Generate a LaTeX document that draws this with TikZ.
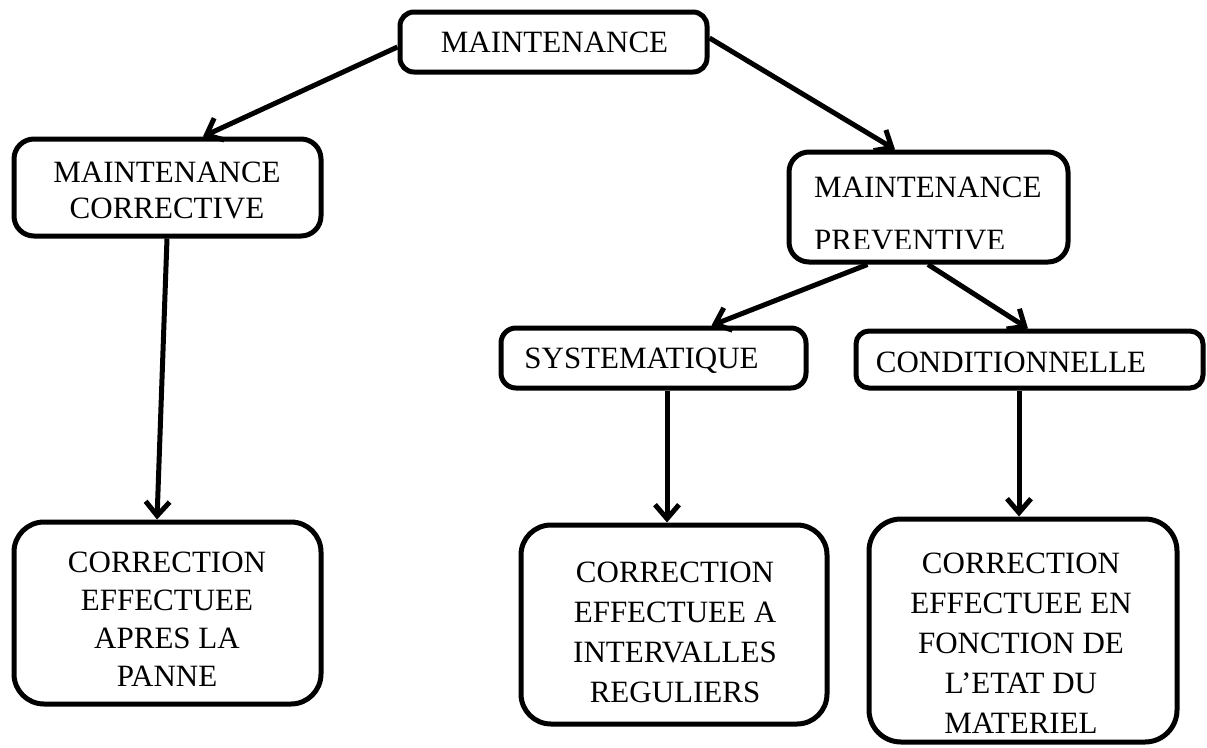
\documentclass[tikz,border=0pt]{standalone}
\usepackage{fontspec}
\setmainfont{Liberation Serif}
\usetikzlibrary{arrows.meta,calc}
\begin{document}
\begin{tikzpicture}[x=1pt,y=-1pt,
  box/.style={draw=black, line width=5pt, rectangle, inner sep=0pt},
  lbl/.style={inner sep=0pt, anchor=north, align=center, font=\fontsize{31}{40}\selectfont},
  link/.style={line width=5pt, draw=black, -{Straight Barb[length=14pt,width=24pt]}},
]
\useasboundingbox (0,0) rectangle (1207,747);
\fill[white] (0,0) rectangle (1207,747);

% boxes
\node[box, minimum width=307pt, minimum height=60pt, rounded corners=14pt] (btop) at (553.5,42) {};
\node[box, minimum width=307pt, minimum height=97pt, rounded corners=20pt] (bcorr) at (167.5,187.5) {};
\node[box, minimum width=279pt, minimum height=110pt, rounded corners=20pt] (bprev) at (928.5,207) {};
\node[box, minimum width=305pt, minimum height=60pt, rounded corners=15pt] (bsyst) at (653.5,358) {};
\node[box, minimum width=347pt, minimum height=57pt, rounded corners=13pt] (bcond) at (1029.5,359.5) {};
\node[box, minimum width=307pt, minimum height=182pt, rounded corners=30pt] (bpanne) at (167.5,613) {};
\node[box, minimum width=306pt, minimum height=199pt, rounded corners=30pt] (breg) at (674,624.5) {};
\node[box, minimum width=308pt, minimum height=223pt, rounded corners=32pt] (bmat) at (1023,630.5) {};

% labels
\node[lbl] (ttop) at (554.5,32) {MAINTENANCE};
\node[lbl, font=\fontsize{31}{36}\selectfont] (tcorr) at (167,162) {MAINTENANCE\\CORRECTIVE};
\begin{scope}
  \clip (789,152) rectangle (1068,248);
  \node[lbl, anchor=north west, align=left, font=\fontsize{31}{53}\selectfont] (tprev) at (814,177) {MAINTENANCE\\PREVENTIVE};
\end{scope}
\node[lbl] (tsyst) at (641.5,348) {SYSTEMATIQUE};
\node[lbl] (tcond) at (1011,352) {CONDITIONNELLE};
\node[lbl, font=\fontsize{31}{38}\selectfont] (tpanne) at (167,552) {CORRECTION\\EFFECTUEE\\APRES LA\\PANNE};
\node[lbl] (treg) at (675,562) {CORRECTION\\EFFECTUEE A\\INTERVALLES\\REGULIERS};
\node[lbl] (tmat) at (1021,553) {CORRECTION\\EFFECTUEE EN\\FONCTION DE\\L’ETAT DU\\MATERIEL};

% connectors
\draw[link] ($(btop.west)+(0,5)$) -- ($(bcorr.north)+(35.5,0)$);
\draw[link] ($(btop.east)+(0,-4)$) -- ($(bprev.north)+(-33.5,0)$);
\draw[link] ($(bcorr.south)+(-0.5,0)$) -- ($(bpanne.north)+(-10.5,0)$);
\draw[link] ($(bprev.south)+(-61,0)$) -- ($(bsyst.north)+(58,0)$);
\draw[link] ($(bprev.south)+(-0.5,0)$) -- ($(bcond.north)+(-1.5,0)$);
\draw[link] ($(bsyst.south)+(13.5,0)$) -- ($(breg.north)+(-7,0)$);
\draw[link] ($(bcond.south)+(-10.5,0)$) -- ($(bmat.north)+(-4,0)$);
\end{tikzpicture}
\end{document}
